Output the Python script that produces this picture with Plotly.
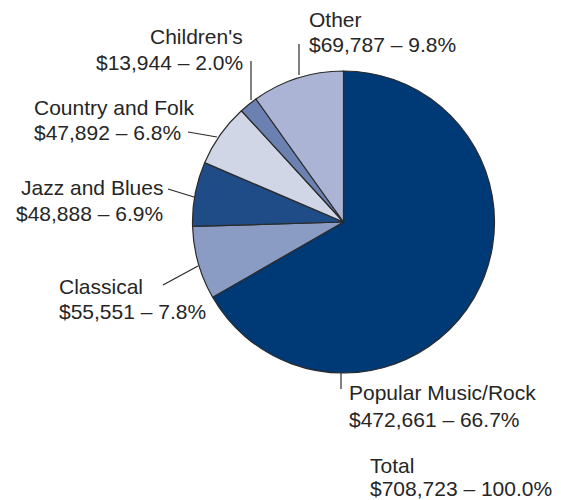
import plotly.graph_objects as go

W, H = 561, 500

# Sales by music category (clockwise from 12 o'clock)
categories = ["Popular Music/Rock", "Classical", "Jazz and Blues",
              "Country and Folk", "Children's", "Other"]
sales = [472661, 55551, 48888, 47892, 13944, 69787]
colors = ["#003a76", "#8a9bc4", "#1f4c87", "#d1d6e7", "#6a81b1", "#abb4d4"]

total = sum(sales)

def px(x):
    return x / W

def py(y):
    return 1 - y / H

# Pie placement (pixels)
cx, cy, r = 343.5, 222, 151

fig = go.Figure(go.Pie(
    labels=categories,
    values=sales,
    sort=False,
    direction="clockwise",
    rotation=0,
    marker=dict(colors=colors, line=dict(color="#2a2a2a", width=1.2)),
    textinfo="none",
    hoverinfo="label+value+percent",
    showlegend=False,
    domain=dict(x=[px(cx - r), px(cx + r)], y=[py(cy + r), py(cy - r)]),
))

def fmt(v):
    return f"${v:,} \u2013 {v / total * 100:.1f}%"

# label layout: anchor x, align, baseline of line 1, baseline of line 2
label_layout = {
    "Popular Music/Rock": (347, "left", 399, 426),
    "Classical": (57, "left", 293, 318),
    "Jazz and Blues": (165, "right", 194, 220),
    "Country and Folk": (32, "left", 114, 139),
    "Children's": (245, "right", 43, 69),
    "Other": (307, "left", 26, 51),
}

FS = 21
FONT = dict(family="Liberation Sans, Arial, sans-serif", size=FS, color="#262626")

annotations = []

def add_line(text, x, align, baseline):
    annotations.append(dict(
        x=px(x), y=py(baseline - 0.3 * FS), xref="paper", yref="paper",
        text=text, showarrow=False, xanchor=align, yanchor="middle",
        font=FONT,
    ))

for name, v in zip(categories, sales):
    x, align, b1, b2 = label_layout[name]
    add_line(name, x, align, b1)
    add_line(fmt(v), x, align, b2)

add_line("Total", 368, "left", 472)
add_line(f"${total:,} \u2013 100.0%", 368, "left", 495)

# Leader lines from labels to slices (pixels)
leaders = [
    (299, 44, 299, 75),     # Other
    (251, 61, 251, 100),    # Children's
    (188, 132, 217, 137),   # Country and Folk
    (168, 189, 194, 197),   # Jazz and Blues
    (163, 285, 198, 266),   # Classical
    (341, 373, 341, 389),   # Popular Music/Rock
]
shapes = [dict(type="line", xref="paper", yref="paper",
               x0=px(a), y0=py(b), x1=px(c), y1=py(d),
               line=dict(color="#2a2a2a", width=1.2))
          for a, b, c, d in leaders]

fig.update_layout(
    width=W, height=H,
    margin=dict(l=0, r=0, t=0, b=0),
    paper_bgcolor="white", plot_bgcolor="white",
    annotations=annotations,
    shapes=shapes,
)

fig.write_html("out.html")
